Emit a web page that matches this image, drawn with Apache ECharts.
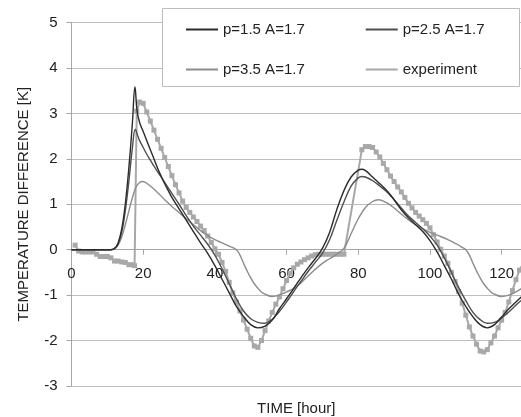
<!DOCTYPE html>
<html>
<head>
<meta charset="utf-8">
<script src="https://cdn.jsdelivr.net/npm/echarts@6/dist/echarts.min.js"></script>
<style>
html, body { margin: 0; padding: 0; background: #fff; }
#chart { width: 521px; height: 417px; }
</style>
</head>
<body>
<div id="chart"></div>
<script>
// series names, in legend order
const seriesNames = ['p=1.5 A=1.7', 'p=2.5 A=1.7', 'p=3.5 A=1.7', 'experiment'];

// model p=1.5 A=1.7
const p15Time = [0, 11, 12, 13, 14, 15, 16, 17, 17.7, 18.3, 19, 20, 21, 22, 23, 24, 25, 26, 27, 28,
  30, 32, 34, 36, 38, 40, 42, 44, 46, 48, 50, 52, 54, 56, 58, 60, 62, 64, 66, 68,
  70, 72, 74, 76, 78, 80, 81, 82, 84, 86, 88, 90, 92, 94, 96, 98, 100, 102, 104, 106,
  108, 110, 112, 114, 116, 118, 120, 122, 124, 126];
const p15Temp = [0, 0, 0.03, 0.15, 0.45, 1.0, 1.8, 2.8, 3.58, 3.05, 2.8, 2.6, 2.4, 2.2, 2.0, 1.8, 1.62, 1.45, 1.3, 1.15,
  0.9, 0.65, 0.4, 0.15, -0.08, -0.35, -0.65, -0.95, -1.25, -1.47, -1.65, -1.72, -1.68, -1.55, -1.3, -1.08, -0.85, -0.62, -0.4, -0.2,
  0.03, 0.38, 0.88, 1.3, 1.6, 1.75, 1.77, 1.74, 1.6, 1.45, 1.3, 1.1, 0.88, 0.7, 0.55, 0.4, 0.2, -0.05, -0.35, -0.65,
  -0.98, -1.25, -1.48, -1.65, -1.72, -1.65, -1.48, -1.3, -1.15, -1.0];

// model p=2.5 A=1.7
const p25Time = [0, 11, 12, 13, 14, 15, 16, 17, 17.8, 18.5, 19, 20, 21, 22, 23, 24, 25, 26, 27, 28,
  30, 32, 34, 36, 38, 40, 42, 44, 46, 48, 50, 52, 54, 56, 58, 60, 62, 64, 66, 68,
  70, 72, 74, 76, 78, 80, 81, 82, 84, 86, 88, 90, 92, 94, 96, 98, 100, 102, 104, 106,
  108, 110, 112, 114, 116, 118, 120, 122, 124, 126];
const p25Temp = [0, 0, 0.02, 0.12, 0.38, 0.85, 1.5, 2.25, 2.65, 2.5, 2.4, 2.25, 2.1, 1.97, 1.84, 1.72, 1.6, 1.48, 1.36, 1.24,
  1.0, 0.75, 0.52, 0.32, 0.12, -0.12, -0.42, -0.75, -1.08, -1.35, -1.52, -1.6, -1.62, -1.53, -1.36, -1.15, -0.92, -0.7, -0.48, -0.28,
  -0.08, 0.22, 0.64, 1.05, 1.4, 1.58, 1.61, 1.6, 1.52, 1.4, 1.27, 1.1, 0.92, 0.74, 0.6, 0.46, 0.3, 0.1, -0.18, -0.5,
  -0.83, -1.12, -1.38, -1.54, -1.62, -1.6, -1.5, -1.37, -1.22, -1.08];

// model p=3.5 A=1.7
const p35Time = [0, 11, 12, 13, 14, 15, 16, 17, 18, 19, 19.8, 21, 22, 24, 26, 28, 30, 32, 34, 36,
  38, 40, 42, 44, 46, 47, 48, 49, 50, 51, 52, 53, 54, 56, 58, 60, 62, 64, 66, 68,
  70, 72, 74, 76, 78, 80, 82, 84, 85.5, 87, 89, 91, 93, 95, 97, 99, 101, 103, 105, 107,
  108, 109, 110, 111, 112, 113, 114, 115, 116, 117, 118, 120, 122, 124, 126];
const p35Temp = [0, 0, 0.02, 0.1, 0.28, 0.55, 0.85, 1.15, 1.38, 1.48, 1.5, 1.46, 1.4, 1.26, 1.1, 0.95, 0.82, 0.68, 0.55, 0.42,
  0.31, 0.22, 0.15, 0.08, 0.0, -0.12, -0.3, -0.47, -0.62, -0.75, -0.85, -0.93, -0.98, -1.03, -1.0, -0.93, -0.85, -0.73, -0.58, -0.43,
  -0.3, -0.2, -0.1, 0.03, 0.35, 0.68, 0.93, 1.06, 1.1, 1.07, 0.98, 0.85, 0.72, 0.6, 0.5, 0.42, 0.35, 0.29, 0.22, 0.14,
  0.1, 0.05, 0.0, -0.12, -0.3, -0.47, -0.62, -0.75, -0.85, -0.93, -0.98, -1.03, -1.0, -0.93, -0.83];

// measured
const expTime = [1, 2, 3, 4, 5, 6, 7, 8, 9, 10, 11, 12, 13, 14, 15, 16, 17, 17.6, 18.2, 19,
  20, 21, 22, 23, 24, 25, 26, 27, 28, 29, 30, 31, 32, 33, 34, 35, 36, 37, 38, 39,
  40, 41, 42, 43, 44, 45, 46, 47, 48, 49, 50, 51, 52, 53, 54, 55, 56, 57, 58, 59,
  60, 61, 62, 63, 64, 65, 66, 67, 68, 69, 70, 71, 72, 73, 74, 75, 76, 81, 82, 83,
  84, 85, 86, 87, 88, 89, 90, 91, 92, 93, 94, 95, 96, 97, 98, 99, 100, 101, 102, 103,
  104, 105, 106, 107, 108, 109, 110, 111, 112, 113, 114, 115, 116, 117, 118, 119, 120, 121, 122, 123,
  124, 125, 126];
const expTemp = [0.1, -0.03, -0.05, -0.05, -0.05, -0.05, -0.1, -0.15, -0.15, -0.15, -0.18, -0.25, -0.25, -0.27, -0.28, -0.33, -0.33, -0.35, 3.05, 3.25,
  3.22, 3.03, 2.83, 2.63, 2.43, 2.23, 2.03, 1.83, 1.63, 1.43, 1.25, 1.07, 0.93, 0.82, 0.72, 0.62, 0.52, 0.42, 0.3, 0.16,
  0.02, -0.1, -0.28, -0.48, -0.72, -0.95, -1.15, -1.35, -1.55, -1.75, -1.95, -2.12, -2.15, -2.0, -1.78, -1.57, -1.38, -1.2, -1.04, -0.86,
  -0.68, -0.52, -0.4, -0.32, -0.27, -0.22, -0.18, -0.14, -0.11, -0.1, -0.1, -0.1, -0.1, -0.1, -0.1, -0.1, -0.1, 2.2, 2.27, 2.27,
  2.25, 2.15, 2.04, 1.9, 1.76, 1.62, 1.5, 1.38, 1.27, 1.15, 1.02, 0.92, 0.82, 0.74, 0.66, 0.58, 0.48, 0.33, 0.17, 0.01,
  -0.14, -0.3, -0.5, -0.7, -0.92, -1.18, -1.44, -1.7, -1.9, -2.08, -2.23, -2.25, -2.2, -2.05, -1.9, -1.72, -1.55, -1.38, -1.15, -0.9,
  -0.66, -0.45, -0.3];

const font = 'Liberation Sans, Arial, sans-serif';

function pairs(xs, ys) {
  return xs.map((x, i) => [x, ys[i]]);
}

let myChart = echarts.init(document.getElementById('chart'), null, { width: 521, height: 417 });

let legendCommon = {
  left: 180, z: 5,
  itemWidth: 32, itemHeight: 14, itemGap: 60,
  itemStyle: { opacity: 0 },
  textStyle: { fontSize: 15, color: '#222', fontFamily: font }
};

let option = {
  animation: false,
  backgroundColor: '#fff',
  textStyle: { fontFamily: font },
  grid: { left: 71.5, right: 0, top: 22.5, bottom: 31, containLabel: false, outerBoundsMode: 'none' },
  graphic: [{
    type: 'rect',
    left: 162, top: 8, z: 3,
    shape: { width: 357, height: 78 },
    style: { fill: '#fff', stroke: '#bcbcbc', lineWidth: 1 }
  }],
  legend: [
    Object.assign({ data: [seriesNames[0], seriesNames[1]], top: 17 }, legendCommon),
    Object.assign({ data: [seriesNames[2], seriesNames[3]], top: 57 }, legendCommon)
  ],
  xAxis: {
    type: 'value',
    min: 0, max: 125.4, interval: 20,
    name: 'TIME [hour]',
    nameLocation: 'middle',
    nameGap: 152,
    nameTextStyle: { fontSize: 15, color: '#222', fontFamily: font },
    axisLine: { onZero: true, lineStyle: { color: '#a6a6a6' } },
    axisTick: { length: 5, lineStyle: { color: '#a6a6a6' } },
    axisLabel: {
      fontSize: 15, color: '#222', margin: 17,
      formatter: v => (v % 20 === 0 ? String(v) : '')
    },
    splitLine: { show: false }
  },
  yAxis: {
    type: 'value',
    min: -3, max: 5, interval: 1,
    name: 'TEMPERATURE DIFFERENCE [K]',
    nameLocation: 'middle',
    nameGap: 40,
    nameTextStyle: { fontSize: 15, color: '#222', fontFamily: font },
    axisLine: { show: true, onZero: false, lineStyle: { color: '#a6a6a6' } },
    axisTick: { show: true, length: 5, lineStyle: { color: '#a6a6a6' } },
    axisLabel: { fontSize: 15, color: '#222', margin: 14 },
    splitLine: { lineStyle: { color: '#bdbdbd' } }
  },
  series: [
    {
      name: seriesNames[3],
      type: 'line',
      data: pairs(expTime, expTemp),
      symbol: 'rect', symbolSize: 5, showSymbol: true,
      itemStyle: { color: '#a8a8a8' },
      lineStyle: { color: '#a8a8a8', width: 2 },
      z: 2
    },
    {
      name: seriesNames[2],
      type: 'line',
      data: pairs(p35Time, p35Temp),
      smooth: 0.4, showSymbol: false, symbol: 'none',
      itemStyle: { color: '#8c8c8c' },
      lineStyle: { color: '#8c8c8c', width: 1.4 },
      z: 3
    },
    {
      name: seriesNames[1],
      type: 'line',
      data: pairs(p25Time, p25Temp),
      smooth: 0.4, showSymbol: false, symbol: 'none',
      itemStyle: { color: '#4f4f4f' },
      lineStyle: { color: '#4f4f4f', width: 1.4 },
      z: 4
    },
    {
      name: seriesNames[0],
      type: 'line',
      data: pairs(p15Time, p15Temp),
      smooth: 0.4, showSymbol: false, symbol: 'none',
      itemStyle: { color: '#2b2b2b' },
      lineStyle: { color: '#2b2b2b', width: 1.4 },
      z: 5
    }
  ]
};

myChart.setOption(option);

// the x axis crosses at 0: lift it from the grid bottom to the y=0 level
const zeroPx = myChart.convertToPixel({ yAxisIndex: 0 }, 0);
const bottomPx = myChart.convertToPixel({ yAxisIndex: 0 }, -3);
if (Math.abs(bottomPx - zeroPx) > 1) {
  myChart.setOption({ xAxis: { offset: zeroPx - bottomPx } });
}

window.addEventListener('resize', () => myChart.resize(), false);
</script>
</body>
</html>
